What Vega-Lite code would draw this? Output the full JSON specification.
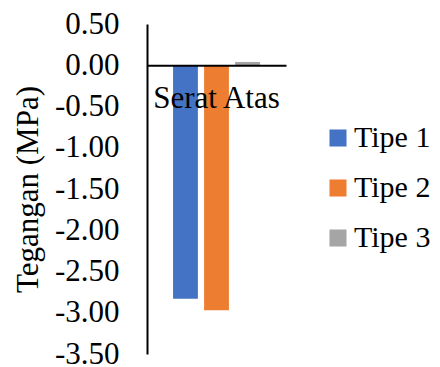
{
  "$schema": "https://vega.github.io/schema/vega-lite/v6.json",
  "autosize": "none",
  "width": 139,
  "height": 330,
  "padding": {"left": 147, "top": 24, "right": 154, "bottom": 13},
  "background": "white",
  "config": {
    "font": "Times New Roman, Liberation Serif, serif",
    "view": {"stroke": null}
  },
  "data": {
    "values": [
      {"posisi": "Serat Atas", "tipe": "Tipe 1", "tegangan": -2.83},
      {"posisi": "Serat Atas", "tipe": "Tipe 2", "tegangan": -2.97},
      {"posisi": "Serat Atas", "tipe": "Tipe 3", "tegangan": 0.04}
    ]
  },
  "mark": {"type": "bar"},
  "encoding": {
    "x": {
      "field": "posisi",
      "type": "nominal",
      "scale": {"paddingInner": 0, "paddingOuter": 0.3},
      "axis": {
        "title": null,
        "orient": "bottom",
        "offset": -288.75,
        "zindex": 1,
        "domainColor": "black",
        "domainWidth": 2,
        "ticks": false,
        "labelAngle": 0,
        "labelFont": "Times New Roman, Liberation Serif, serif",
        "labelFontSize": 31,
        "labelColor": "black",
        "labelPadding": 18
      }
    },
    "xOffset": {
      "field": "tipe",
      "type": "nominal",
      "scale": {"paddingInner": 0.2, "paddingOuter": 0}
    },
    "y": {
      "field": "tegangan",
      "type": "quantitative",
      "scale": {"domain": [-3.5, 0.5], "nice": false, "zero": false},
      "axis": {
        "title": "Tegangan (MPa)",
        "titleFont": "Times New Roman, Liberation Serif, serif",
        "titleFontSize": 31,
        "titleFontWeight": "normal",
        "titleColor": "black",
        "titlePadding": 10,
        "values": [-3.5, -3, -2.5, -2, -1.5, -1, -0.5, 0, 0.5],
        "format": ".2f",
        "labelExpr": "replace(datum.label, '\u2212', '-')",
        "labelFont": "Times New Roman, Liberation Serif, serif",
        "labelFontSize": 31,
        "labelColor": "black",
        "labelPadding": 28,
        "ticks": false,
        "grid": false,
        "domainColor": "black",
        "domainWidth": 2
      }
    },
    "color": {
      "field": "tipe",
      "type": "nominal",
      "scale": {
        "domain": ["Tipe 1", "Tipe 2", "Tipe 3"],
        "range": ["#4472C4", "#ED7D31", "#A5A5A5"]
      },
      "legend": {
        "title": null,
        "orient": "none",
        "legendX": 176,
        "legendY": 99,
        "symbolType": "square",
        "symbolSize": 290,
        "symbolStrokeWidth": 0,
        "labelFont": "Times New Roman, Liberation Serif, serif",
        "labelFontSize": 30,
        "labelColor": "black",
        "labelOffset": 1,
        "rowPadding": 20
      }
    }
  }
}
